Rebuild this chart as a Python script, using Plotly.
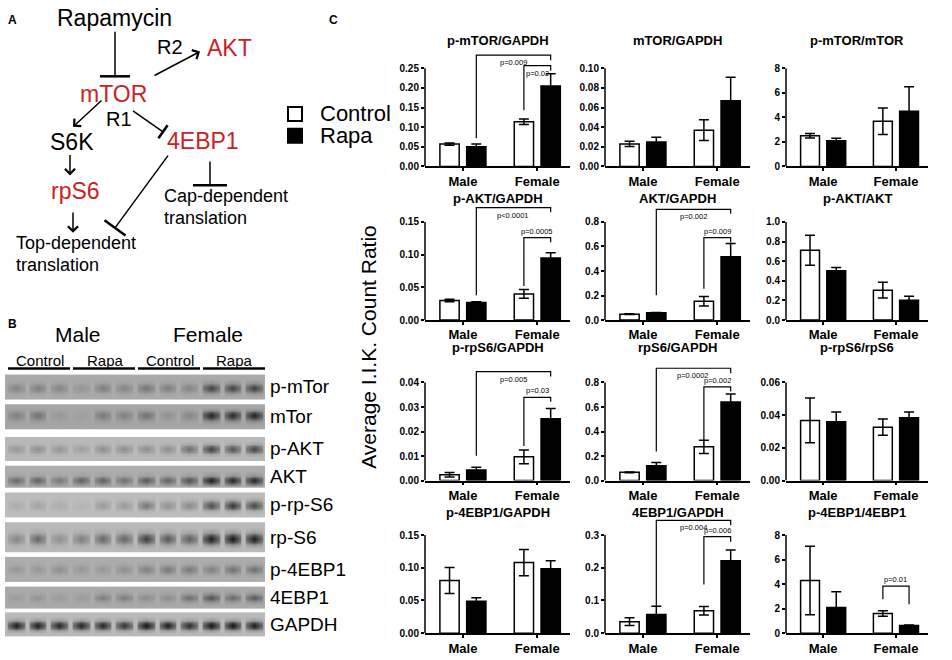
import math
import plotly.graph_objects as go

W, H = 952, 660
FONT = "Liberation Sans, Arial, sans-serif"
RED = "#cc2222"

# ---------------- data ----------------
groups = ["Male", "Female"]
series = ["Control", "Rapa"]

titles = ["p-mTOR/GAPDH", "mTOR/GAPDH", "p-mTOR/mTOR",
          "p-AKT/GAPDH", "AKT/GAPDH", "p-AKT/AKT",
          "p-rpS6/GAPDH", "rpS6/GAPDH", "p-rpS6/rpS6",
          "p-4EBP1/GAPDH", "4EBP1/GAPDH", "p-4EBP1/4EBP1"]

control_mean = [[0.057, 0.114], [0.023, 0.037], [2.50, 3.69],
                [0.030, 0.040], [0.048, 0.154], [0.712, 0.305],
                [0.0024, 0.0097], [0.067, 0.275], [0.0368, 0.0327],
                [0.0805, 0.108], [0.0352, 0.0685], [4.30, 1.61]]
control_err = [[0.003, 0.007], [0.0027, 0.0105], [0.18, 1.08],
               [0.002, 0.0066], [0.003, 0.039], [0.153, 0.080],
               [0.0009, 0.0028], [0.003, 0.054], [0.0137, 0.0049],
               [0.020, 0.020], [0.012, 0.013], [2.80, 0.22]]
rapa_mean = [[0.050, 0.205], [0.025, 0.067], [2.10, 4.50],
             [0.027, 0.095], [0.059, 0.517], [0.502, 0.203],
             [0.0043, 0.0252], [0.121, 0.641], [0.0360, 0.0384],
             [0.0488, 0.0987], [0.0574, 0.2215], [2.09, 0.62]]
rapa_err = [[0.007, 0.031], [0.0047, 0.024], [0.20, 2.00],
            [0.001, 0.008], [0.002, 0.108], [0.034, 0.040],
            [0.0011, 0.0042], [0.027, 0.065], [0.0060, 0.0036],
            [0.0054, 0.012], [0.025, 0.033], [1.29, 0.05]]

y_max = [0.25, 0.10, 8, 0.15, 0.8, 1.0, 0.04, 0.8, 0.06, 0.15, 0.3, 8]
y_step = [0.05, 0.02, 2, 0.05, 0.2, 0.2, 0.01, 0.2, 0.02, 0.05, 0.1, 2]
y_fmt = [".2f", ".2f", "d", ".2f", ".1f", ".1f", ".2f", ".1f", ".2f", ".2f", ".1f", "d"]

# significance brackets: (bar from, bar to, top, left leg end, right leg end, label, label above)
# bars: 0 male control, 1 male rapa, 2 female control, 3 female rapa
brackets = {
    0: [(1, 3, 0.284, 0.072, 0.271, "p=0.009", False), (2, 3, 0.257, 0.143, 0.244, "p=0.02", False)],
    3: [(1, 3, 0.172, 0.038, 0.165, "p<0.0001", False), (2, 3, 0.126, 0.052, 0.119, "p=0.0005", True)],
    4: [(1, 3, 0.902, 0.202, 0.867, "p=0.002", False), (2, 3, 0.673, 0.256, 0.633, "p=0.009", True)],
    6: [(1, 3, 0.0444, 0.0101, 0.0424, "p=0.005", False), (2, 3, 0.0339, 0.0141, 0.0321, "p=0.03", True)],
    7: [(1, 3, 0.916, 0.237, 0.875, "p=0.0002", False), (2, 3, 0.765, 0.329, 0.727, "p=0.002", True)],
    10: [(1, 3, 0.345, 0.0835, 0.330, "p=0.004", False), (2, 3, 0.295, 0.149, 0.280, "p=0.006", True)],
    11: [(2, 3, 3.84, 2.77, 2.36, "p=0.01", True)],
}

# western blot: band strength per lane (12 lanes: M ctrl x3, M rapa x3, F ctrl x3, F rapa x3)
blot_labels = ["p-mTor", "mTor", "p-AKT", "AKT", "p-rp-S6", "rp-S6", "p-4EBP1", "4EBP1", "GAPDH"]
blot_bands = [
    [0.25, 0.30, 0.25, 0.15, 0.30, 0.25, 0.35, 0.30, 0.25, 0.70, 0.70, 0.72],
    [0.25, 0.35, 0.10, 0.05, 0.30, 0.25, 0.35, 0.15, 0.20, 0.90, 0.85, 0.90],
    [0.20, 0.25, 0.20, 0.15, 0.25, 0.25, 0.25, 0.25, 0.45, 0.70, 0.60, 0.70],
    [0.45, 0.50, 0.35, 0.50, 0.50, 0.40, 0.55, 0.50, 0.60, 0.95, 0.90, 0.90],
    [0.10, 0.15, 0.10, 0.05, 0.20, 0.20, 0.40, 0.25, 0.30, 0.65, 0.80, 0.70],
    [0.30, 0.50, 0.25, 0.35, 0.50, 0.50, 0.75, 0.60, 0.55, 0.95, 1.00, 0.95],
    [0.15, 0.15, 0.20, 0.15, 0.15, 0.20, 0.30, 0.35, 0.35, 0.30, 0.40, 0.40],
    [0.10, 0.15, 0.10, 0.10, 0.30, 0.30, 0.20, 0.20, 0.40, 0.60, 0.45, 0.55],
    [0.95, 0.95, 0.90, 0.90, 0.90, 0.80, 1.00, 0.95, 0.85, 1.00, 1.00, 0.95],
]
blot_bg = [0.20, 0.22, 0.12, 0.18, 0.10, 0.12, 0.18, 0.20, 0.12]

# ---------------- layout geometry (pixels) ----------------
col_px = [(425, 570), (605, 750), (786, 928)]
row_bottom = [168, 323, 485, 639]
title_y = [41, 200, 351, 517]
AX_H = 99
EXT = 1.2
XR = [-0.51, 1.44]
OFF = 0.18

strip_y = [(378, 403), (408, 433), (441, 465), (470, 492), (497, 522),
           (527, 557), (562, 587), (592, 614), (618, 642)]
band_pos = [0.55, 0.45, 0.50, 0.68, 0.52, 0.55, 0.50, 0.50, 0.55]
STRIP_X = (5, 265)

fig = go.Figure()
layout = dict(
    width=W, height=H, margin=dict(l=0, r=0, t=0, b=0),
    paper_bgcolor="white", plot_bgcolor="rgba(0,0,0,0)",
    barmode="group", bargap=0.28, bargroupgap=0.28,
    showlegend=False, font=dict(family=FONT, color="black"),
)
shapes = []
annotations = []


def px_ann(text, x, y, size, color="black", weight="normal", xanchor="center", angle=0):
    annotations.append(dict(text=text, x=x, y=y, xref="x13", yref="y13", showarrow=False,
                            xanchor=xanchor, yanchor="middle", textangle=angle,
                            font=dict(size=size, color=color, family=FONT, weight=weight)))


def bar_x(b):
    return b // 2 + (OFF if b % 2 else -OFF)


for i in range(12):
    r, c = divmod(i, 3)
    n = i + 1
    xa = "x" if n == 1 else f"x{n}"
    ya = "y" if n == 1 else f"y{n}"
    left, right = col_px[c]
    bottom = row_bottom[r]
    ymax = y_max[i]

    fig.add_trace(go.Bar(
        x=[0, 1], y=control_mean[i], name=series[0], xaxis=xa, yaxis=ya,
        marker=dict(color="white", line=dict(color="black", width=1.5)),
        error_y=dict(type="data", array=control_err[i], color="black", thickness=1.5, width=5)))
    fig.add_trace(go.Bar(
        x=[0, 1], y=rapa_mean[i], name=series[1], xaxis=xa, yaxis=ya,
        marker=dict(color="black", line=dict(color="black", width=1.5)),
        error_y=dict(type="data", array=rapa_err[i], color="black", thickness=1.5, width=5)))

    for (b0, b1, top, l0, l1, txt, above) in brackets.get(i, []):
        x0, x1 = bar_x(b0), bar_x(b1)
        fig.add_trace(go.Scatter(
            x=[x0, x0, x1, x1], y=[l0, top, top, l1], mode="lines", xaxis=xa, yaxis=ya,
            line=dict(color="black", width=1.2), hoverinfo="skip"))
        annotations.append(dict(
            text=txt, x=(x0 + x1) / 2, y=top, xref=xa, yref=ya, showarrow=False,
            yanchor="bottom" if above else "top", yshift=0 if above else -1,
            font=dict(size=7.5, family=FONT, color="black")))

    nt = int(round(ymax / y_step[i]))
    tickvals = [k * y_step[i] for k in range(nt + 1)]
    key = "" if n == 1 else str(n)
    layout["xaxis" + key] = dict(
        domain=[left / W, right / W], range=XR, anchor=ya,
        tickvals=[0, 1], ticktext=groups, showline=True, linewidth=1.5, linecolor="black",
        ticks="outside", ticklen=3, tickwidth=1.5, tickcolor="black", showgrid=False,
        zeroline=False, fixedrange=True, ticklabelstandoff=-1,
        tickfont=dict(size=13, weight="bold", family=FONT))
    layout["yaxis" + key] = dict(
        domain=[1 - bottom / H, 1 - (bottom - AX_H * EXT) / H], range=[0, ymax * EXT],
        anchor=xa, tickvals=tickvals, tickformat=y_fmt[i], showline=False,
        ticks="outside", ticklen=3, tickwidth=1.5, tickcolor="black", showgrid=False,
        zeroline=False, fixedrange=True,
        tickfont=dict(size=10, weight="bold", family=FONT))
    shapes.append(dict(type="line", xref=xa + " domain", yref=ya, x0=0, x1=0, y0=0, y1=ymax,
                       line=dict(color="black", width=1.5)))
    px_ann(titles[i], (left + right) / 2, title_y[r], 13, weight="bold")

# overlay axis in pixel units for panels A, B and labels
layout["xaxis13"] = dict(domain=[0, 1], range=[0, W], anchor="y13", visible=False, fixedrange=True)
layout["yaxis13"] = dict(domain=[0, 1], range=[H, 0], anchor="x13", visible=False, fixedrange=True)

# ---------------- western blot strips ----------------
lane_w = (STRIP_X[1] - STRIP_X[0]) / 12
x_edges = [STRIP_X[0]]
for k in range(12):
    a = STRIP_X[0] + k * lane_w
    x_edges += [a + 0.14 * lane_w, a + 0.86 * lane_w, a + lane_w]
for s, (t, b) in enumerate(strip_y):
    bg = blot_bg[s]
    cpos = band_pos[s]
    row_frac = [0.0, cpos - 0.22, cpos - 0.11, cpos + 0.11, cpos + 0.22, 1.0]
    band_row, soft_row, bg_row = [], [], []
    for v in blot_bands[s]:
        full = bg + (1 - bg) * v
        band_row += [bg, full, bg]
        soft_row += [bg, bg + 0.4 * (full - bg), bg]
        bg_row += [bg, bg, bg]
    z = [bg_row, soft_row, band_row, soft_row, bg_row]
    y_edges = [t + f * (b - t) for f in row_frac]
    fig.add_trace(go.Heatmap(
        z=z, x=x_edges, y=y_edges, xaxis="x13", yaxis="y13", zmin=0, zmax=1,
        colorscale=[[0, "#d0d0d0"], [1, "#101010"]], showscale=False, hoverinfo="skip",
        zsmooth="best"))
    px_ann(blot_labels[s], 268, (t + b) / 2, 19, xanchor="left")

px_ann("Male", 78, 338, 21)
px_ann("Female", 208, 338, 21)
for k, (lbl, cx) in enumerate(zip(["Control", "Rapa", "Control", "Rapa"], [40, 105, 170, 234])):
    px_ann(lbl, cx, 364, 15)
    shapes.append(dict(type="line", xref="x13", yref="y13", x0=8 + 65 * k, x1=70 + 65 * k,
                       y0=372, y1=372, line=dict(color="black", width=2.5)))

# ---------------- panel A diagram ----------------
nodes = [("Rapamycin", 114, 18, "black"), ("mTOR", 113, 95, RED), ("AKT", 229, 48, RED),
         ("S6K", 72, 143, "black"), ("4EBP1", 203, 142, RED), ("rpS6", 75, 193, RED)]
for txt, x, y, col in nodes:
    px_ann(txt, x, y, 23, color=col)
px_ann("R2", 170, 47, 20)
px_ann("R1", 119, 120, 20)
px_ann("Cap-dependent", 162, 198, 18, xanchor="left")
px_ann("translation", 162, 220, 18, xanchor="left")
px_ann("Top-dependent", 14, 245, 18, xanchor="left")
px_ann("translation", 14, 267, 18, xanchor="left")

arrows = [(153, 77, 200, 52), (103, 100, 73, 128), (70, 155, 70, 177), (73, 213, 73, 235)]
for x0, y0, x1, y1 in arrows:
    annotations.append(dict(x=x1, y=y1, ax=x0, ay=y0, xref="x13", yref="y13", axref="x13",
                            ayref="y13", text="", showarrow=True, arrowhead=4, arrowsize=1.3,
                            arrowwidth=1.5, arrowcolor="black"))

inhibits = [(115, 32, 115, 77, 15), (133, 112, 163, 133, 8),
            (168, 157, 115, 230, 13), (210, 163, 210, 187, 17)]
for x0, y0, x1, y1, hl in inhibits:
    shapes.append(dict(type="line", xref="x13", yref="y13", x0=x0, y0=y0, x1=x1, y1=y1,
                       line=dict(color="black", width=1.5)))
    d = math.hypot(x1 - x0, y1 - y0)
    px_, py_ = -(y1 - y0) / d * hl, (x1 - x0) / d * hl
    shapes.append(dict(type="line", xref="x13", yref="y13", x0=x1 - px_, y0=y1 - py_,
                       x1=x1 + px_, y1=y1 + py_, line=dict(color="black", width=2.5)))

# ---------------- legend, axis title, panel letters ----------------
for k, (name, fill) in enumerate(zip(series, ["white", "black"])):
    cy = 115 + 22 * k
    shapes.append(dict(type="rect", xref="x13", yref="y13", x0=288, x1=302, y0=cy - 7, y1=cy + 7,
                       fillcolor=fill, line=dict(color="black", width=2)))
    px_ann(name, 318, cy, 22, xanchor="left")

px_ann("Average I.I.K. Count Ratio", 369, 350, 21, angle=-90)
px_ann("A", 12, 20, 12, weight="bold")
px_ann("B", 12, 327, 12, weight="bold")
px_ann("C", 333, 20, 12, weight="bold")

layout["shapes"] = shapes
layout["annotations"] = annotations
fig.update_layout(**layout)
fig.write_html("out.html", config={"displayModeBar": False},
               post_script="document.body.style.margin='0px';")
